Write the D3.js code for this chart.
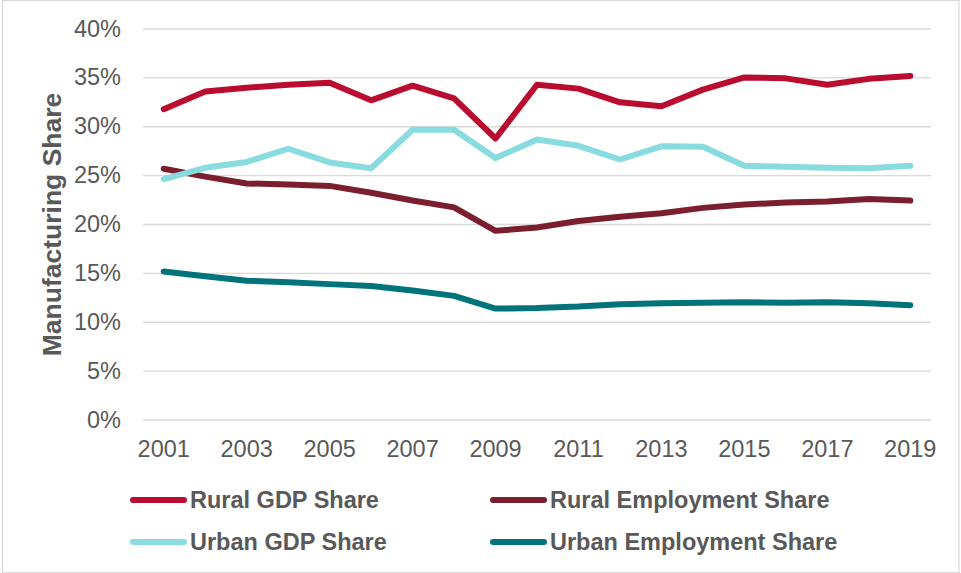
<!DOCTYPE html>
<html>
<head>
<meta charset="utf-8">
<script src="https://cdn.jsdelivr.net/npm/d3@7"></script>
<style>
  html, body { margin: 0; padding: 0; background: #fff; }
  svg { display: block; font-family: "Liberation Sans", Arial, sans-serif; }
</style>
</head>
<body>
<svg id="chart" width="961" height="573"></svg>
<script>
// Manufacturing share of output and employment, rural vs urban, 2001–2019
const years = d3.range(2001, 2020);
const yTicks = [0, 5, 10, 15, 20, 25, 30, 35, 40];

const ruralGdp = [31.8, 33.6, 34.0, 34.3, 34.5, 32.7, 34.2, 32.9, 28.8, 34.3, 33.9, 32.5, 32.1, 33.8, 35.05, 34.95, 34.3, 34.9, 35.2];
const ruralEmp = [25.7, 24.9, 24.2, 24.1, 23.95, 23.25, 22.45, 21.75, 19.35, 19.7, 20.35, 20.8, 21.15, 21.7, 22.05, 22.25, 22.35, 22.6, 22.45];
const urbanGdp = [24.65, 25.8, 26.4, 27.75, 26.35, 25.75, 29.7, 29.7, 26.8, 28.7, 28.05, 26.65, 28.0, 27.95, 26.0, 25.9, 25.8, 25.75, 26.0];
const urbanEmp = [15.2, 14.7, 14.25, 14.1, 13.9, 13.7, 13.25, 12.7, 11.4, 11.45, 11.6, 11.85, 11.95, 12.0, 12.05, 12.0, 12.05, 11.95, 11.75];

const seriesNames = ["Rural GDP Share", "Rural Employment Share", "Urban GDP Share", "Urban Employment Share"];
const seriesColors = ["#BA0C2F", "#7B1F2E", "#88DBDF", "#00747A"];
const seriesValues = [ruralGdp, ruralEmp, urbanGdp, urbanEmp];

const series = seriesNames.map((name, i) => ({
  name, color: seriesColors[i],
  values: years.map((yr, j) => ({ year: yr, v: seriesValues[i][j] }))
}));

const svg = d3.select("#chart");
const plot = { left: 143, right: 931, top: 29, bottom: 420 };
const textColor = "#595959";

// outer frame
svg.append("rect")
  .attr("x", 2.5).attr("y", 0.5)
  .attr("width", 956.5).attr("height", 572)
  .attr("fill", "#fff").attr("stroke", "#d9d9d9").attr("stroke-width", 1.2);

const x = d3.scaleBand().domain(years).range([plot.left, plot.right]);
const y = d3.scaleLinear().domain([0, 40]).range([plot.bottom, plot.top]);

// horizontal gridlines
svg.append("g").selectAll("line").data(yTicks).join("line")
  .attr("x1", plot.left).attr("x2", plot.right)
  .attr("y1", d => y(d)).attr("y2", d => y(d))
  .attr("stroke", "#d9d9d9").attr("stroke-width", 1.3);

// y axis labels
const yAxis = d3.axisLeft(y).tickValues(yTicks).tickFormat(d => d + "%").tickSize(0).tickPadding(0);
const gy = svg.append("g").attr("transform", "translate(121,0)").call(yAxis);
gy.select(".domain").remove();
gy.selectAll("text")
  .attr("font-family", "'Liberation Sans', Arial, sans-serif")
  .attr("font-size", 23.5).attr("fill", textColor).attr("dy", "0.3em");

// x axis labels (every other year)
const xAxis = d3.axisBottom(x).tickValues(years.filter(d => (d - 2001) % 2 === 0)).tickSize(0).tickPadding(0);
const gx = svg.append("g").attr("transform", `translate(0,${plot.bottom})`).call(xAxis);
gx.select(".domain").remove();
gx.selectAll("text")
  .attr("font-family", "'Liberation Sans', Arial, sans-serif")
  .attr("font-size", 23.5).attr("fill", textColor).attr("dy", null).attr("y", 37);

// y axis title
svg.append("text")
  .attr("transform", `translate(61,${(plot.top + plot.bottom) / 2}) rotate(-90)`)
  .attr("text-anchor", "middle")
  .attr("font-size", 26.5).attr("font-weight", "bold").attr("fill", textColor)
  .text("Manufacturing Share");

// series lines
const line = d3.line()
  .x(d => x(d.year) + x.bandwidth() / 2)
  .y(d => y(d.v));

svg.append("g").selectAll("path").data(series).join("path")
  .attr("d", d => line(d.values))
  .attr("fill", "none")
  .attr("stroke", d => d.color)
  .attr("stroke-width", 6)
  .attr("stroke-linejoin", "round")
  .attr("stroke-linecap", "round");

// legend
const legendPos = [
  { lx: 130, ty: 500 }, { lx: 490, ty: 500 },
  { lx: 130, ty: 542 }, { lx: 490, ty: 542 }
];
const lg = svg.append("g").selectAll("g").data(series).join("g")
  .attr("transform", (d, i) => `translate(${legendPos[i].lx},${legendPos[i].ty})`);
lg.append("line")
  .attr("x1", 3).attr("x2", 54).attr("y1", 0).attr("y2", 0)
  .attr("stroke", d => d.color).attr("stroke-width", 6).attr("stroke-linecap", "round");
lg.append("text")
  .attr("x", 60).attr("y", 0).attr("dy", "0.36em")
  .attr("font-size", 23.5).attr("font-weight", "bold").attr("fill", textColor)
  .text(d => d.name);
</script>
</body>
</html>
